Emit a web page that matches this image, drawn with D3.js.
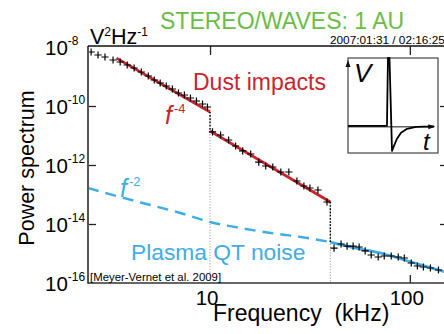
<!DOCTYPE html>
<html>
<head>
<meta charset="utf-8">
<script src="https://cdn.jsdelivr.net/npm/d3@7"></script>
<style>
  html, body { margin: 0; padding: 0; background: #fff; overflow: hidden; }
  svg { display: block; font-family: "Liberation Sans", Arial, sans-serif; }
</style>
</head>
<body>
<svg id="chart" width="444" height="334"></svg>
<script>
// ---------- data ----------
const freqTicks = [10, 100];
const powerTicks = [1e-16, 1e-14, 1e-12, 1e-10, 1e-8];

// measured spectrum (kHz, V^2/Hz)
const dustLowFreq = [2.54, 2.75, 2.98, 3.27, 3.55, 3.85, 4.17, 4.53, 4.91, 5.26, 5.63, 6.04, 6.48, 6.95, 7.44, 7.98, 8.55, 9.17, 9.71];
const dustLowPower = [6.78e-9, 5.36e-9, 4.58e-9, 3.62e-9, 3.10e-9, 2.45e-9, 1.94e-9, 1.42e-9, 1.04e-9, 7.60e-10, 6.03e-10, 4.76e-10, 3.77e-10, 2.76e-10, 2.36e-10, 1.87e-10, 1.48e-10, 1.17e-10, 9.25e-11];

const dustMidFreq = [10.29, 11.29, 12.39, 13.43, 14.57, 15.98, 17.53, 19.00, 20.61, 22.61, 24.80, 27.21, 29.50, 31.62, 34.69, 38.49];
const dustMidPower = [1.32e-11, 1.04e-11, 7.03e-12, 4.41e-12, 2.99e-12, 2.36e-12, 1.26e-12, 9.25e-13, 8.55e-13, 5.79e-13, 5.79e-13, 2.87e-13, 1.94e-13, 1.66e-13, 1.42e-13, 5.57e-14];

const plasmaFreq = [41.75, 45.27, 48.53, 52.02, 55.76, 59.77, 64.06, 69.45, 74.45, 80.72, 87.54, 93.84, 101.7, 109.1, 116.9, 126.8, 139.1];
const plasmaPower = [1.53e-15, 2.10e-15, 1.79e-15, 1.79e-15, 1.66e-15, 1.22e-15, 8.89e-16, 7.60e-16, 8.22e-16, 8.22e-16, 7.60e-16, 7.03e-16, 4.76e-16, 3.77e-16, 3.48e-16, 3.22e-16, 2.76e-16];

// f^-4 fits (endpoints)
const fit1Freq = [3.4, 10];
const fit1Power = [4.2e-9, 6.3e-11];
const fit2Freq = [10, 40];
const fit2Power = [1.42e-11, 5.6e-14];

// QT noise model
const qtFreq = [2.45, 3.55, 5.02, 7.11, 10, 14.23, 20.14, 28.5, 40, 53.8, 74.4, 101.7, 150.7];
const qtPower = [1.66e-13, 8.22e-14, 4.41e-14, 2.36e-14, 1.17e-14, 7.31e-15, 4.95e-15, 3.62e-15, 2.45e-15, 1.53e-15, 9.61e-16, 5.15e-16, 2.36e-16];
const qtSolidFrom = 40;

// jumps between regimes
const jumpFreq = [10, 40];
const jumpTop = [6.3e-11, 5.6e-14];
const jumpBottom = [1.42e-11, 2.45e-15];

// inset pulse (arbitrary units)
const pulseT = [0, 43.3, 44.4, 46.1, 48.9, 51.1, 54.4, 58.9, 65.6, 75.6, 95.6];
const pulseV = [0, 0, 1.0, 1.0, -0.368, -0.294, -0.19, -0.10, -0.044, -0.015, -0.007];

// ---------- drawing ----------
const svg = d3.select("#chart");
const L = 88, R = 445, T = 47, B = 283;
const x = d3.scaleLog().domain([2.45, 150]).range([L, R]);
const y = d3.scaleLog().domain([1e-16, 1e-8]).range([B, T]);

const RED = "#c9252c", BLUE = "#3eade6", GREEN = "#69bd47";

svg.append("defs").append("clipPath").attr("id", "plotclip")
  .append("rect").attr("x", L).attr("y", T - 1).attr("width", R - L).attr("height", B - T + 1);

const plot = svg.append("g").attr("clip-path", "url(#plotclip)");

// gray guide lines
jumpFreq.forEach((f, i) => {
  plot.append("line")
    .attr("x1", x(f)).attr("x2", x(f))
    .attr("y1", y(jumpTop[i])).attr("y2", B)
    .attr("stroke", "#808080").attr("stroke-width", 0.8)
    .attr("stroke-dasharray", "1.2,1.6");
});

// QT noise model
const qtPts = qtFreq.map((f, i) => [f, qtPower[i]]);
const line = d3.line().x(d => x(d[0])).y(d => y(d[1])).curve(d3.curveMonotoneX);
plot.append("path").datum(qtPts.filter(d => d[0] <= qtSolidFrom))
  .attr("d", line).attr("fill", "none").attr("stroke", BLUE)
  .attr("stroke-width", 2.4).attr("stroke-dasharray", "11,7");
plot.append("path").datum(qtPts.filter(d => d[0] >= qtSolidFrom))
  .attr("d", line).attr("fill", "none").attr("stroke", BLUE)
  .attr("stroke-width", 2.8);

// red fits
[[fit1Freq, fit1Power], [fit2Freq, fit2Power]].forEach(([fs, ps]) => {
  plot.append("path").datum(fs.map((f, i) => [f, ps[i]]))
    .attr("d", d3.line().x(d => x(d[0])).y(d => y(d[1])))
    .attr("fill", "none").attr("stroke", RED).attr("stroke-width", 2.8);
});

// black dotted jumps
jumpFreq.forEach((f, i) => {
  plot.append("line")
    .attr("x1", x(f)).attr("x2", x(f))
    .attr("y1", y(jumpTop[i])).attr("y2", y(jumpBottom[i]))
    .attr("stroke", "#000").attr("stroke-width", 1.4)
    .attr("stroke-dasharray", "1.6,1.6");
});

// markers
const allPts = [];
[[dustLowFreq, dustLowPower], [dustMidFreq, dustMidPower], [plasmaFreq, plasmaPower]].forEach(([fs, ps]) => {
  fs.forEach((f, i) => allPts.push([f, ps[i]]));
});
const s = 3.6;
plot.selectAll("path.mk").data(allPts).join("path")
  .attr("class", "mk")
  .attr("d", d => `M${x(d[0]) - s},${y(d[1])}H${x(d[0]) + s}M${x(d[0])},${y(d[1]) - s}V${y(d[1]) + s}`)
  .attr("stroke", "#000").attr("stroke-width", 1.2).attr("fill", "none");

// axes (ticks only, inward)
const tickStyle = g => { g.select(".domain").remove(); g.selectAll("line").attr("stroke", "#222").attr("stroke-width", 1.3); g.selectAll("text").remove(); };
svg.append("g").attr("transform", `translate(${L},0)`)
  .call(d3.axisLeft(y).tickValues(powerTicks.slice(1, -1)).tickSize(-8)).call(tickStyle);
svg.append("g").attr("transform", `translate(${R},0)`)
  .call(d3.axisRight(y).tickValues(powerTicks.slice(1, -1)).tickSize(-5)).call(tickStyle);
svg.append("g").attr("transform", `translate(0,${B})`)
  .call(d3.axisBottom(x).tickValues(freqTicks.slice(1)).tickSize(-8)).call(tickStyle);
svg.append("g").attr("transform", `translate(0,${T - 1})`)
  .call(d3.axisTop(x).tickValues(freqTicks).tickSize(-9)).call(tickStyle);

// frame
svg.append("line").attr("x1", L).attr("x2", L).attr("y1", T - 1).attr("y2", B + 0.7).attr("stroke", "#555").attr("stroke-width", 2);
svg.append("line").attr("x1", L).attr("x2", 444).attr("y1", B).attr("y2", B).attr("stroke", "#333").attr("stroke-width", 1.5);
svg.append("line").attr("x1", L).attr("x2", 444).attr("y1", T - 1).attr("y2", T - 1).attr("stroke", "#111").attr("stroke-width", 1.5);

// y tick labels
powerTicks.forEach(p => {
  const t = svg.append("text").attr("x", 45).attr("y", y(p) + 7.5).attr("font-size", 20.5).attr("fill", "#000");
  t.append("tspan").text("10");
  t.append("tspan").attr("font-size", 12).attr("dy", -9.5).text(String(Math.round(Math.log10(p))));
});
// x tick labels
freqTicks.forEach(f => {
  svg.append("text").attr("x", x(f) - 3).attr("y", 305).attr("text-anchor", "middle")
    .attr("font-size", 20.5).text(String(f));
});

// axis titles
svg.append("text").attr("x", 213).attr("y", 321).attr("font-size", 23).attr("xml:space", "preserve")
  .style("white-space", "pre").text("Frequency  (kHz)");
svg.append("text").attr("transform", "translate(34,168) rotate(-90)").attr("text-anchor", "middle")
  .attr("font-size", 21.5).text("Power spectrum");
const unit = svg.append("text").attr("x", 90).attr("y", 43.5).attr("font-size", 21.5);
unit.append("tspan").text("V");
unit.append("tspan").attr("font-size", 12).attr("dy", -8).text("2");
unit.append("tspan").attr("dy", 8).text("Hz");
unit.append("tspan").attr("font-size", 12).attr("dy", -8).text("-1");

// title / date
svg.append("text").attr("x", 160).attr("y", 28.5).attr("font-size", 23).attr("fill", GREEN).text("STEREO/WAVES: 1 AU");
svg.append("text").attr("x", 330).attr("y", 44.3).attr("font-size", 11.8).attr("fill", "#000").text("2007:01:31 / 02:16:25");

// annotations
svg.append("text").attr("x", 193).attr("y", 90).attr("font-size", 23).attr("fill", RED).text("Dust impacts");
const f4 = svg.append("text").attr("x", 165).attr("y", 124).attr("fill", RED).attr("font-style", "italic").attr("font-size", 25);
f4.append("tspan").text("f");
f4.append("tspan").attr("font-size", 13).attr("font-style", "normal").attr("dx", 2).attr("dy", -11).text("-4");
const f2 = svg.append("text").attr("x", 120).attr("y", 197).attr("fill", BLUE).attr("font-style", "italic").attr("font-size", 25);
f2.append("tspan").text("f");
f2.append("tspan").attr("font-size", 13).attr("font-style", "normal").attr("dx", 2).attr("dy", -11).text("-2");
svg.append("text").attr("x", 131).attr("y", 260).attr("font-size", 22.8).attr("fill", BLUE).text("Plasma QT noise");
svg.append("text").attr("x", 90).attr("y", 280.5).attr("font-size", 11.4).attr("fill", "#000").text("[Meyer-Vernet et al. 2009]");

// inset
const IX0 = 348, IX1 = 438, IY0 = 58, IY1 = 153;
const ix = d3.scaleLinear().domain([0, 100]).range([IX0, IX1]);
const iy = d3.scaleLinear().domain([-0.4, 1]).range([IY1, IY0]);
const inset = svg.append("g");
inset.append("rect").attr("x", IX0).attr("y", IY0).attr("width", IX1 - IX0).attr("height", IY1 - IY0)
  .attr("fill", "#fff").attr("stroke", "#333").attr("stroke-width", 1.1);
// axes arrows
inset.append("line").attr("x1", ix(0)).attr("x2", ix(95)).attr("y1", iy(0) + 1).attr("y2", iy(0) + 1).attr("stroke", "#111").attr("stroke-width", 1);
inset.append("path").attr("d", `M${ix(97)},${iy(0) + 1}l-7,-2.5v5z`).attr("fill", "#111");
inset.append("path").attr("d", `M${IX0},${IY0 + 2}l-2.5,7h5z`).attr("fill", "#111");
inset.append("path").datum(pulseT.map((t, i) => [t, pulseV[i]]))
  .attr("d", d3.line().x(d => ix(d[0])).y(d => iy(d[1])).curve(d3.curveLinear))
  .attr("fill", "none").attr("stroke", "#000").attr("stroke-width", 1.8).attr("stroke-linejoin", "round");
inset.append("text").attr("x", 354).attr("y", 82).attr("font-size", 26).attr("font-style", "italic").text("V");
inset.append("text").attr("x", 423).attr("y", 150).attr("font-size", 24).attr("font-style", "italic").text("t");
</script>
</body>
</html>
